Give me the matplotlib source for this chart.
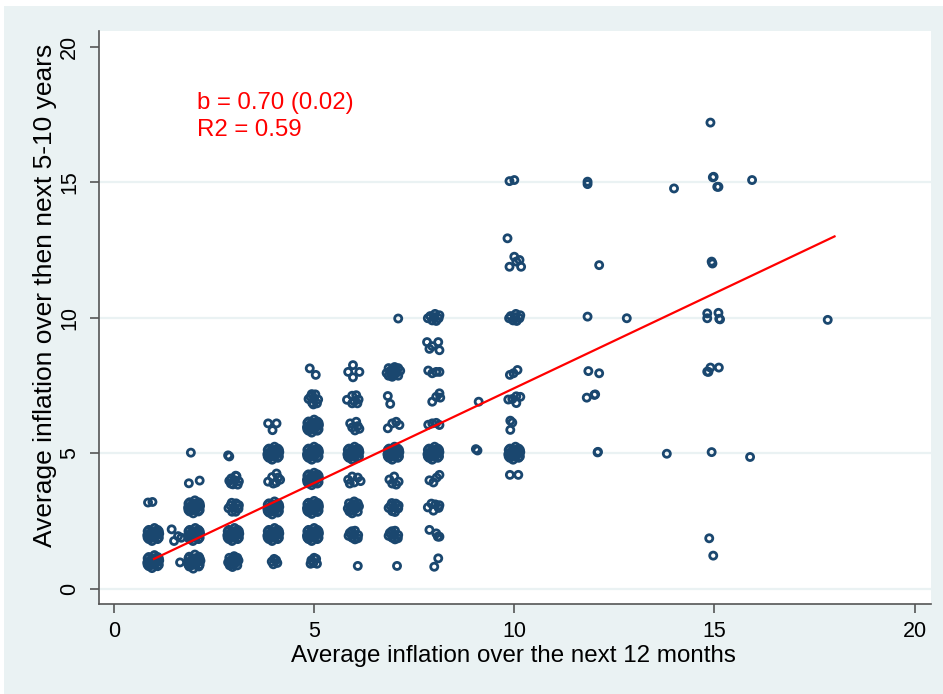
import numpy as np
import matplotlib
matplotlib.use("Agg")
import matplotlib.pyplot as plt
from matplotlib.patches import Rectangle

plt.rcParams['font.family'] = ['Liberation Sans', 'DejaVu Sans']

# survey answers (12-month expectation, 5-10 year expectation), jittered as in the source
col1 = [
    (0.98, 1.00), (1.13, 1.04), (0.83, 0.96), (1.01, 1.24), (0.95, 0.76), (1.09, 0.83),
    (0.87, 1.17), (1.09, 1.17), (0.87, 0.83), (1.04, 0.93), (0.92, 1.07), (1.05, 1.05),
    (0.91, 0.95),
    (0.98, 2.00), (1.13, 2.03), (0.83, 1.97), (1.01, 2.24), (0.95, 1.76), (1.09, 1.83),
    (0.87, 2.17), (1.09, 2.17), (0.87, 1.83), (1.04, 1.93), (0.92, 2.07), (1.05, 2.05),
    (0.91, 1.95),
    (0.85, 3.18), (0.96, 3.20),
    (1.44, 2.19), (1.50, 1.76), (1.60, 1.94), (1.68, 1.88), (1.65, 0.97),
]
col2 = [
    (2.00, 1.00), (2.16, 1.03), (1.84, 0.97), (2.02, 1.26), (1.98, 0.74), (2.12, 0.82),
    (1.88, 1.18), (2.12, 1.18), (1.88, 0.82), (2.06, 0.93), (1.94, 1.07), (2.07, 1.06),
    (1.93, 0.94),
    (2.00, 2.00), (2.15, 2.04), (1.85, 1.96), (2.03, 2.24), (1.97, 1.76), (2.11, 1.83),
    (1.89, 2.17), (2.11, 2.17), (1.89, 1.83), (2.06, 1.93), (1.94, 2.07), (2.07, 2.05),
    (1.93, 1.95),
    (2.00, 3.02), (2.15, 3.05), (1.85, 2.99), (2.02, 3.26), (1.98, 2.78), (2.11, 2.85),
    (1.89, 3.19), (2.11, 3.19), (1.89, 2.85), (2.06, 2.95), (1.94, 3.09), (2.07, 3.07),
    (1.93, 2.97),
    (1.87, 3.89), (2.14, 3.99), (1.92, 5.02),
]
col3 = [
    (2.98, 1.00), (3.11, 1.04), (2.85, 0.97), (3.00, 1.20), (2.96, 0.80), (3.08, 0.86),
    (2.88, 1.14), (3.08, 1.14), (2.89, 0.86), (3.03, 0.94), (2.93, 1.06),
    (2.98, 2.00), (3.13, 2.03), (2.83, 1.97), (3.01, 2.24), (2.95, 1.76), (3.09, 1.83),
    (2.87, 2.17), (3.09, 2.17), (2.87, 1.83), (3.04, 1.93), (2.92, 2.07), (3.05, 2.05),
    (2.91, 1.95),
    (2.91, 3.07), (3.05, 3.15), (3.11, 2.95), (2.95, 2.84), (3.00, 3.00), (2.86, 2.97),
    (3.12, 3.08), (3.04, 2.84), (2.94, 3.17),
    (2.93, 4.07), (3.06, 4.15), (3.12, 3.96), (2.97, 3.85), (3.02, 4.00), (2.88, 3.98),
    (3.09, 3.84), (3.04, 4.17), (2.92, 3.88),
    (2.85, 4.92), (2.88, 4.88),
]
col4 = [
    (3.94, 1.00), (4.00, 1.10), (4.08, 0.95), (3.98, 0.90), (4.05, 1.05),
    (3.98, 2.00), (4.13, 2.04), (3.83, 1.96), (4.01, 2.24), (3.95, 1.76), (4.09, 1.83),
    (3.87, 2.17), (4.09, 2.17), (3.87, 1.83), (4.04, 1.93), (3.92, 2.07), (4.05, 2.05),
    (3.91, 1.95),
    (3.98, 2.98), (4.13, 3.02), (3.83, 2.95), (4.01, 3.22), (3.95, 2.74), (4.09, 2.81),
    (3.87, 3.15), (4.09, 3.15), (3.87, 2.81), (4.04, 2.91), (3.92, 3.05), (4.05, 3.03),
    (3.91, 2.93),
    (3.85, 3.95), (3.95, 4.12), (4.05, 3.92), (4.15, 4.02), (3.98, 3.88), (4.10, 4.10),
    (4.06, 4.25),
    (3.98, 5.00), (4.13, 5.04), (3.83, 4.96), (4.01, 5.24), (3.95, 4.76), (4.09, 4.83),
    (3.87, 5.17), (4.09, 5.17), (3.87, 4.83), (4.04, 4.93), (3.92, 5.07), (4.05, 5.05),
    (3.91, 4.95),
    (3.85, 6.10), (4.06, 6.10), (3.96, 5.85),
]
col5 = [
    (4.93, 1.05), (5.05, 1.10), (4.98, 0.95), (5.07, 0.92), (4.91, 0.92), (5.00, 1.14),
    (4.97, 2.00), (5.12, 2.04), (4.82, 1.96), (5.00, 2.24), (4.94, 1.76), (5.08, 1.83),
    (4.86, 2.17), (5.08, 2.17), (4.86, 1.83), (5.03, 1.93), (4.91, 2.07), (5.04, 2.05),
    (4.90, 1.95),
    (4.97, 3.00), (5.12, 3.03), (4.82, 2.97), (5.00, 3.24), (4.94, 2.76), (5.08, 2.83),
    (4.86, 3.17), (5.08, 3.17), (4.86, 2.83), (5.03, 2.93), (4.91, 3.07), (5.04, 3.05),
    (4.90, 2.95),
    (4.97, 4.05), (5.12, 4.08), (4.82, 4.02), (5.00, 4.28), (4.94, 3.82), (5.08, 3.88),
    (4.86, 4.22), (5.08, 4.22), (4.86, 3.88), (5.03, 3.98), (4.91, 4.12), (5.04, 4.10),
    (4.90, 4.00),
    (4.97, 5.00), (5.12, 5.04), (4.82, 4.96), (5.00, 5.24), (4.94, 4.76), (5.08, 4.83),
    (4.86, 5.17), (5.08, 5.17), (4.86, 4.83), (5.03, 4.93), (4.91, 5.07), (5.04, 5.05),
    (4.90, 4.95),
    (4.97, 6.00), (5.12, 6.04), (4.82, 5.96), (5.00, 6.24), (4.94, 5.76), (5.08, 5.83),
    (4.86, 6.17), (5.08, 6.17), (4.86, 5.83), (5.03, 5.93), (4.91, 6.07), (5.04, 6.05),
    (4.90, 5.95),
    (4.91, 7.08), (5.03, 7.17), (5.10, 6.98), (4.95, 6.86), (5.00, 7.02), (4.86, 7.00),
    (5.07, 6.84), (4.98, 6.80), (4.94, 7.18),
    (4.89, 8.13), (5.04, 7.89),
]
col6 = [
    (6.09, 0.84),
    (5.89, 2.06), (6.02, 2.14), (6.10, 1.98), (5.95, 1.88), (6.00, 2.00), (5.86, 1.95),
    (6.09, 1.86), (6.02, 1.82), (5.94, 2.12),
    (5.98, 3.00), (6.12, 3.04), (5.84, 2.96), (6.00, 3.22), (5.95, 2.78), (6.09, 2.84),
    (5.87, 3.15), (6.09, 3.15), (5.88, 2.85), (6.03, 2.94), (5.92, 3.06),
    (5.85, 4.02), (5.95, 4.14), (6.09, 4.10), (6.16, 3.97), (6.00, 3.92), (5.89, 3.88),
    (5.98, 5.00), (6.13, 5.04), (5.83, 4.96), (6.01, 5.24), (5.95, 4.76), (6.09, 4.83),
    (5.87, 5.17), (6.09, 5.17), (5.87, 4.83), (6.04, 4.93), (5.92, 5.07), (6.05, 5.05),
    (5.91, 4.95),
    (5.90, 6.10), (6.05, 6.16), (6.09, 6.00), (5.95, 5.95), (6.02, 5.84), (6.13, 5.90),
    (5.82, 6.97), (5.95, 7.12), (6.05, 7.14), (6.11, 6.98), (6.00, 6.92), (5.95, 6.84),
    (6.08, 6.84),
    (5.97, 8.25), (5.85, 8.00), (6.13, 8.00), (5.97, 7.80),
]
col7 = [
    (7.07, 0.84),
    (6.89, 2.06), (7.02, 2.14), (7.10, 1.98), (6.95, 1.88), (7.00, 2.00), (6.86, 1.95),
    (7.09, 1.86), (7.02, 1.82), (6.94, 2.12),
    (6.91, 3.06), (7.04, 3.14), (7.10, 2.96), (6.95, 2.86), (7.00, 3.00), (6.86, 2.98),
    (7.11, 3.07), (7.02, 2.83), (6.94, 3.16),
    (6.88, 4.03), (7.00, 4.14), (7.11, 3.95), (6.95, 3.88), (7.05, 3.84),
    (6.98, 5.00), (7.13, 5.04), (6.83, 4.96), (7.01, 5.24), (6.95, 4.76), (7.09, 4.83),
    (6.87, 5.17), (7.09, 5.17), (6.87, 4.83), (7.04, 4.93), (6.92, 5.07), (7.05, 5.05),
    (6.91, 4.95),
    (6.84, 5.92), (7.05, 6.16), (7.13, 6.04), (6.95, 6.10),
    (6.84, 7.11), (6.90, 6.82),
    (6.98, 8.00), (7.15, 8.04), (6.81, 7.96), (7.01, 8.18), (6.95, 7.82), (7.10, 7.86),
    (6.86, 8.14), (7.10, 8.14), (6.86, 7.86), (7.04, 7.94), (6.92, 8.06),
    (7.10, 9.97),
]
col8 = [
    (8.00, 0.81), (8.10, 1.12),
    (7.88, 2.17), (8.09, 1.92), (8.05, 2.04), (8.13, 1.92),
    (7.84, 3.00), (7.93, 3.14), (8.03, 3.11), (8.11, 2.98), (7.98, 2.88), (8.13, 3.08),
    (7.88, 4.00), (7.98, 3.92), (8.06, 4.10), (8.13, 4.20),
    (7.98, 5.00), (8.13, 5.04), (7.83, 4.96), (8.01, 5.24), (7.95, 4.76), (8.09, 4.83),
    (7.87, 5.17), (8.09, 5.17), (7.87, 4.83), (8.04, 4.93), (7.92, 5.07), (8.05, 5.05),
    (7.91, 4.95),
    (7.85, 6.05), (7.95, 6.10), (8.05, 6.12), (8.13, 6.04),
    (7.95, 6.90), (8.05, 7.08), (8.13, 7.21), (8.15, 7.05),
    (7.85, 8.05), (7.95, 7.95), (8.05, 8.00), (8.13, 8.00),
    (7.82, 9.10), (7.95, 8.95), (8.10, 9.10), (8.13, 8.80), (7.88, 8.85),
    (7.90, 10.06), (8.02, 10.14), (8.11, 9.98), (7.95, 9.90), (8.00, 10.02), (7.84, 9.98),
    (8.13, 10.09), (8.05, 9.88),
]
col9 = [(9.11, 6.90), (9.04, 5.15), (9.08, 5.10)]
col10 = [
    (9.89, 4.20), (10.10, 4.20),
    (10.00, 5.00), (10.15, 5.04), (9.85, 4.96), (10.03, 5.24), (9.97, 4.76), (10.11, 4.83),
    (9.89, 5.17), (10.11, 5.17), (9.89, 4.83), (10.06, 4.93), (9.94, 5.07), (10.07, 5.05),
    (9.93, 4.95),
    (9.90, 6.20), (9.95, 6.13), (9.90, 5.86),
    (9.85, 6.98), (10.05, 7.10), (10.15, 7.08), (10.05, 6.85), (9.95, 7.00),
    (9.89, 7.89), (9.98, 7.95), (10.08, 8.07),
    (9.91, 10.06), (10.04, 10.14), (10.13, 9.98), (9.97, 9.90), (10.02, 10.02), (9.87, 9.98),
    (10.15, 10.09), (10.06, 9.88),
    (9.88, 11.88), (10.00, 12.25), (10.13, 12.13), (10.17, 11.88), (10.05, 12.07),
    (9.83, 12.93),
    (9.88, 15.04), (10.00, 15.08),
]
col_high = [
    (11.83, 15.02), (11.83, 14.93), (13.99, 14.77), (14.96, 15.18), (14.98, 15.20),
    (15.07, 14.83), (15.10, 14.83), (15.94, 15.08), (14.90, 17.20),
    (12.12, 11.94), (14.93, 12.07), (14.95, 12.00),
    (11.83, 10.04), (12.81, 9.98), (14.82, 10.16), (14.82, 9.98), (15.10, 10.18),
    (15.14, 9.94), (15.12, 9.96), (17.83, 9.92),
    (11.85, 8.03), (12.12, 7.95), (11.81, 7.05), (12.00, 7.15), (12.02, 7.17),
    (14.82, 8.01), (14.85, 8.00), (14.90, 8.16), (15.11, 8.16),
    (12.08, 5.03), (12.09, 5.05), (13.81, 4.98), (14.93, 5.04), (15.89, 4.86),
    (14.87, 1.86), (14.97, 1.22),
]
# further answers hidden inside the crowded answer pairs
dense_core = [
    (1.06, 1.00), (0.90, 1.01), (0.99, 1.12), (0.97, 0.88), (1.12, 1.12), (0.84, 0.88), (1.12, 0.88), (0.84, 1.12),
    (1.06, 2.00), (0.90, 2.01), (0.99, 2.12), (0.97, 1.88), (1.12, 2.12), (0.84, 1.88), (1.12, 1.88), (0.84, 2.12),
    (2.08, 1.00), (1.92, 1.01), (2.01, 1.12), (1.99, 0.88), (2.14, 1.12), (1.86, 0.88), (2.14, 0.88), (1.86, 1.12),
    (2.08, 2.00), (1.92, 2.01), (2.01, 2.12), (1.99, 1.88), (2.14, 2.12), (1.86, 1.88), (2.14, 1.88), (1.86, 2.12),
    (2.08, 3.02), (1.92, 3.03), (2.01, 3.14), (1.99, 2.90), (2.14, 3.14), (1.86, 2.90), (2.14, 2.90), (1.86, 3.14),
    (3.06, 1.00), (2.90, 1.01), (2.99, 1.10), (2.97, 0.90),
    (3.06, 2.00), (2.90, 2.01), (2.99, 2.12), (2.97, 1.88), (3.12, 2.12), (2.84, 1.88), (3.12, 1.88), (2.84, 2.12),
    (4.06, 2.00), (3.90, 2.01), (3.99, 2.12), (3.97, 1.88), (4.12, 2.12), (3.84, 1.88), (4.12, 1.88), (3.84, 2.12),
    (4.06, 2.98), (3.90, 2.99), (3.99, 3.10), (3.97, 2.86), (4.12, 3.10), (3.84, 2.86), (4.12, 2.86), (3.84, 3.10),
    (4.06, 5.00), (3.90, 5.01), (3.99, 5.12), (3.97, 4.88), (4.12, 5.12), (3.84, 4.88), (4.12, 4.88), (3.84, 5.12),
    (5.05, 2.00), (4.89, 2.01), (4.98, 2.12), (4.96, 1.88), (5.11, 2.12), (4.83, 1.88), (5.11, 1.88), (4.83, 2.12),
    (5.05, 3.00), (4.89, 3.01), (4.98, 3.12), (4.96, 2.88), (5.11, 3.12), (4.83, 2.88), (5.11, 2.88), (4.83, 3.12),
    (5.05, 4.05), (4.89, 4.06), (4.98, 4.17), (4.96, 3.93), (5.11, 4.17), (4.83, 3.93), (5.11, 3.93), (4.83, 4.17),
    (5.05, 5.00), (4.89, 5.01), (4.98, 5.12), (4.96, 4.88), (5.11, 5.12), (4.83, 4.88), (5.11, 4.88), (4.83, 5.12),
    (5.05, 6.00), (4.89, 6.01), (4.98, 6.12), (4.96, 5.88), (5.11, 6.12), (4.83, 5.88), (5.11, 5.88), (4.83, 6.12),
    (6.06, 3.00), (5.90, 3.01), (5.99, 3.12), (5.97, 2.88),
    (6.06, 5.00), (5.90, 5.01), (5.99, 5.12), (5.97, 4.88), (6.12, 5.12), (5.84, 4.88), (6.12, 4.88), (5.84, 5.12),
    (7.06, 5.00), (6.90, 5.01), (6.99, 5.12), (6.97, 4.88), (7.12, 5.12), (6.84, 4.88), (7.12, 4.88), (6.84, 5.12),
    (7.06, 8.00), (6.90, 8.01), (6.99, 8.10), (6.97, 7.90),
    (8.06, 5.00), (7.90, 5.01), (7.99, 5.12), (7.97, 4.88), (8.12, 5.12), (7.84, 4.88), (8.12, 4.88), (7.84, 5.12),
    (10.08, 5.00), (9.92, 5.01), (10.01, 5.12), (9.99, 4.88), (10.14, 5.12), (9.86, 4.88), (10.14, 4.88), (9.86, 5.12),
]

# fitted line
fit_x = [1, 18]
slope, intercept = 0.70, 0.40
stats_lines = ["b = 0.70 (0.02)", "R2 = 0.59"]

points = np.array(col1 + col2 + col3 + col4 + col5 + col6 + col7 + col8 + col9 + col10
                  + col_high + dense_core)

navy = '#1a476f'
bg = '#eaf2f3'

fig = plt.figure(figsize=(9.43, 6.94), dpi=100, facecolor=bg)
fig.patches.append(Rectangle((0, 1 - 6 / 694), 1, 6 / 694, transform=fig.transFigure,
                             facecolor='white', edgecolor='none', zorder=-1))
fig.patches.append(Rectangle((0, 0), 4 / 943, 1, transform=fig.transFigure,
                             facecolor='white', edgecolor='none', zorder=-1))

ax = fig.add_axes([99 / 943, 90 / 694, 832 / 943, 573 / 694])
ax.set_facecolor('white')
ax.set_xlim(-0.375, 20.41)
ax.set_ylim(-0.565, 20.58)

for g in [0, 5, 10, 15]:
    ax.axhline(g, color=bg, lw=1.6, zorder=0)

ax.scatter(points[:, 0], points[:, 1], s=26, facecolors='none', edgecolors=navy,
           linewidths=2.0, zorder=2)

fx = np.array(fit_x, dtype=float)
ax.plot(fx, intercept + slope * fx, color='red', lw=1.6, zorder=3)

ax.text(2.07, 17.92, stats_lines[0], color='red', fontsize=17.3, va='center', ha='left')
ax.text(2.07, 16.92, stats_lines[1], color='red', fontsize=17.3, va='center', ha='left')

for s in ['top', 'right']:
    ax.spines[s].set_visible(False)
for s in ['left', 'bottom']:
    ax.spines[s].set_color('#555555')
    ax.spines[s].set_linewidth(1.2)

ax.set_xticks([0, 5, 10, 15, 20])
ax.set_yticks([0, 5, 10, 15, 20])
ax.tick_params(axis='both', direction='out', length=6.5, width=1.2, color='#555555',
               labelsize=15.5, labelcolor='black')
ax.tick_params(axis='x', pad=6)
ax.tick_params(axis='y', pad=7, labelrotation=90)
for lab in ax.get_yticklabels():
    lab.set_va('center')

ax.set_xlabel("Average inflation over the next 12 months", fontsize=17.4)
ax.set_ylabel("Average inflation over then next 5-10 years", fontsize=19)
ax.xaxis.set_label_coords(0.4976, -0.072)
ax.yaxis.set_label_coords(-0.051, 0.539)

fig.savefig("out.png", dpi=100, facecolor=fig.get_facecolor())
